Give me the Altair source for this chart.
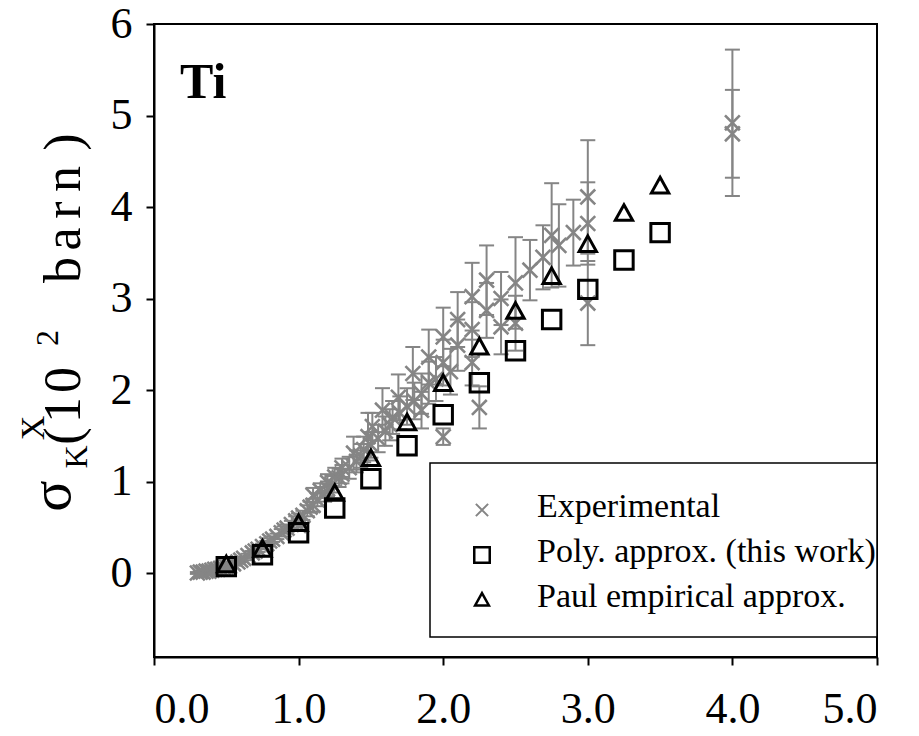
import altair as alt
import pandas as pd

# ---------------- data ----------------
exp_x = [0.30, 0.32, 0.34, 0.36, 0.38, 0.40, 0.42, 0.44, 0.46, 0.48,
         0.50, 0.52, 0.55, 0.58, 0.60, 0.62, 0.65, 0.68, 0.70, 0.72,
         0.75, 0.78, 0.80, 0.82, 0.85, 0.88, 0.90, 0.92, 0.95, 0.98,
         1.00, 1.00, 1.03, 1.06, 1.08, 1.10, 1.10, 1.13, 1.15, 1.18,
         1.20, 1.20, 1.23, 1.25, 1.28, 1.30, 1.30, 1.35, 1.38, 1.40,
         1.43, 1.45, 1.48, 1.50, 1.51, 1.55, 1.58, 1.60, 1.63, 1.65,
         1.69, 1.70, 1.75, 1.79, 1.80, 1.85, 1.85, 1.90, 1.90, 1.95,
         2.00, 2.00, 2.00, 2.05, 2.10, 2.10, 2.20, 2.20, 2.20, 2.25,
         2.30, 2.30, 2.40, 2.40, 2.50, 2.50, 2.60, 2.69, 2.75, 2.80,
         2.90, 3.00, 3.00, 3.00, 4.00, 4.00]
exp_y = [0.00, 0.01, 0.01, 0.02, 0.02, 0.03, 0.04, 0.04, 0.05, 0.06,
         0.07, 0.08, 0.10, 0.12, 0.14, 0.16, 0.19, 0.22, 0.24, 0.26,
         0.29, 0.32, 0.35, 0.37, 0.40, 0.44, 0.47, 0.49, 0.53, 0.57,
         0.60, 0.52, 0.63, 0.68, 0.72, 0.85, 0.74, 0.80, 0.90, 0.86,
         0.99, 0.92, 0.97, 1.05, 1.04, 1.15, 1.08, 1.15, 1.31, 1.22,
         1.28, 1.35, 1.49, 1.40, 1.60, 1.47, 1.78, 1.55, 1.62, 1.70,
         1.92, 1.75, 1.82, 2.18, 1.88, 1.96, 1.78, 2.36, 2.08, 2.12,
         2.58, 2.30, 1.49, 2.20, 2.77, 2.49, 3.02, 2.66, 2.30, 1.81,
         3.20, 2.87, 3.00, 2.69, 3.17, 2.73, 3.31, 3.45, 3.69, 3.58,
         3.72, 4.11, 3.82, 2.95, 4.92, 4.80]
exp_err = [0.01, 0.01, 0.01, 0.01, 0.01, 0.01, 0.01, 0.01, 0.01, 0.01,
           0.01, 0.02, 0.02, 0.02, 0.02, 0.02, 0.02, 0.02, 0.02, 0.03,
           0.03, 0.03, 0.03, 0.03, 0.03, 0.04, 0.04, 0.04, 0.04, 0.05,
           0.05, 0.05, 0.05, 0.06, 0.06, 0.08, 0.07, 0.07, 0.08, 0.08,
           0.09, 0.08, 0.09, 0.10, 0.10, 0.10, 0.10, 0.12, 0.18, 0.12,
           0.13, 0.14, 0.26, 0.14, 0.15, 0.15, 0.24, 0.16, 0.17, 0.18,
           0.25, 0.18, 0.20, 0.29, 0.20, 0.22, 0.20, 0.30, 0.23, 0.24,
           0.32, 0.25, 0.09, 0.25, 0.30, 0.28, 0.37, 0.30, 0.25, 0.23,
           0.38, 0.30, 0.29, 0.30, 0.50, 0.30, 0.33, 0.35, 0.57, 0.45,
           0.36, 0.62, 0.45, 0.46, 0.80, 0.48]

calc_x = [0.50, 0.75, 1.00, 1.25, 1.50, 1.75, 2.00, 2.25, 2.50, 2.75, 3.00, 3.25, 3.50]
poly_y = [0.07, 0.20, 0.44, 0.71, 1.03, 1.39, 1.73, 2.08, 2.43, 2.77, 3.10, 3.42, 3.72]
paul_y = [0.09, 0.26, 0.54, 0.87, 1.25, 1.64, 2.07, 2.47, 2.86, 3.24, 3.59, 3.93, 4.23]

x_ticks = [0, 1, 2, 3, 4, 5]
y_ticks = [0, 1, 2, 3, 4, 5, 6]
legend_labels = ["Experimental", "Poly. approx. (this work)", "Paul empirical approx."]
panel_label = "Ti"

# ---------------- layout constants ----------------
W, H = 723, 633
PAD_L, PAD_T = 154, 24
FONT = "Liberation Serif"
GRAY = "#858585"
X_PATH = "M-1,-1L1,1M-1,1L1,-1"
TRI_PATH = "M0,-1L1,0.8L-1,0.8Z"

df_exp = pd.DataFrame({"E": exp_x, "sigma": exp_y, "err": exp_err})
df_exp["lo"] = df_exp["sigma"] - df_exp["err"]
df_exp["hi"] = df_exp["sigma"] + df_exp["err"]
df_poly = pd.DataFrame({"E": calc_x, "sigma": poly_y})
df_paul = pd.DataFrame({"E": calc_x, "sigma": paul_y})

xs = alt.Scale(domain=[0, 5], nice=False, zero=False)
ys = alt.Scale(domain=[-0.918, 6], nice=False, zero=False)

xax = alt.Axis(values=x_ticks, format=".1f", title=None, grid=False,
               labelPadding=22, tickSize=8)
yax = alt.Axis(values=y_ticks, format="d", title=None, grid=False,
               labelPadding=14, tickSize=8)

X = alt.X("E:Q", scale=xs, axis=xax)
Y = alt.Y("sigma:Q", scale=ys, axis=yax)

base = alt.Chart(df_exp)
err_rule = base.mark_rule(color=GRAY, strokeWidth=2).encode(
    x=alt.X("E:Q", scale=xs, axis=xax),
    y=alt.Y("lo:Q", scale=ys, axis=yax), y2="hi:Q")
cap_lo = base.mark_tick(orient="horizontal", size=15, thickness=2, color=GRAY, opacity=1).encode(
    x=alt.X("E:Q", scale=xs), y=alt.Y("lo:Q", scale=ys))
cap_hi = base.mark_tick(orient="horizontal", size=15, thickness=2, color=GRAY, opacity=1).encode(
    x=alt.X("E:Q", scale=xs), y=alt.Y("hi:Q", scale=ys))
exp_pts = base.mark_point(shape=X_PATH, size=220, strokeWidth=2.6, color=GRAY,
                          filled=False, opacity=1).encode(x=X, y=Y)

poly_pts = alt.Chart(df_poly).mark_point(shape="square", size=340, strokeWidth=3,
                                         color="black", filled=False, opacity=1).encode(x=X, y=Y)
paul_pts = alt.Chart(df_paul).mark_point(shape=TRI_PATH, size=300, strokeWidth=3,
                                         color="black", filled=False, opacity=1).encode(x=X, y=Y)

one = alt.Data(values=[{}])

# legend box
leg_box = alt.Chart(one).mark_rect(fill="white", stroke="black", strokeWidth=1.5).encode(
    x=alt.value(430 - PAD_L), x2=alt.value(877 - PAD_L),
    y=alt.value(463 - PAD_T), y2=alt.value(637 - PAD_T))

sym_x = 482 - PAD_L
rows_sym = [510 - PAD_T, 555 - PAD_T, 600 - PAD_T]
rows_txt = [517 - PAD_T, 562 - PAD_T, 607 - PAD_T]

leg_layers = [
    alt.Chart(one).mark_point(shape=X_PATH, size=150, strokeWidth=2, color=GRAY, filled=False, opacity=1)
    .encode(x=alt.value(sym_x), y=alt.value(rows_sym[0])),
    alt.Chart(one).mark_point(shape="square", size=240, strokeWidth=2.5, color="black", filled=False, opacity=1)
    .encode(x=alt.value(sym_x), y=alt.value(rows_sym[1])),
    alt.Chart(one).mark_point(shape=TRI_PATH, size=190, strokeWidth=2.5, color="black", filled=False, opacity=1)
    .encode(x=alt.value(sym_x), y=alt.value(rows_sym[2])),
]
for lab, ty in zip(legend_labels, rows_txt):
    leg_layers.append(
        alt.Chart(one).mark_text(text=lab, align="left", baseline="alphabetic", font=FONT,
                                 fontSize=34, color="black")
        .encode(x=alt.value(537 - PAD_L), y=alt.value(ty)))

ti = alt.Chart(one).mark_text(text=panel_label, align="left", baseline="alphabetic", font=FONT,
                              fontSize=50, fontWeight="bold", color="black").encode(
    x=alt.value(180 - PAD_L), y=alt.value(98 - PAD_T))

# rotated y-axis title, built glyph by glyph (char, baseline-x, center-y, size)
title_glyphs = [
    ("σ", 70, 496, 58),
    ("K", 87, 457, 32),
    ("X", 44, 428, 34),
    ("(", 80, 436, 52),
    ("1", 80, 410, 52),
    ("0", 80, 380, 52),
    ("2", 58, 338, 32),
    ("b", 80, 270, 52),
    ("a", 80, 239, 52),
    ("r", 80, 210, 52),
    ("n", 80, 179, 52),
    (")", 80, 142, 52),
]
title_layers = []
for ch, bx, cy, fs in title_glyphs:
    title_layers.append(
        alt.Chart(one).mark_text(text=ch, angle=270, align="center", baseline="alphabetic",
                                 font=FONT, fontSize=fs, color="black")
        .encode(x=alt.value(bx - PAD_L), y=alt.value(cy - PAD_T)))

chart = alt.layer(
    err_rule, cap_lo, cap_hi, exp_pts, poly_pts, paul_pts,
    leg_box, *leg_layers, ti, *title_layers
).properties(
    width=W, height=H,
    padding={"left": PAD_L, "top": PAD_T, "right": 919 - PAD_L - W, "bottom": 736 - PAD_T - H},
    autosize=alt.AutoSizeParams(type="none"),
).configure_view(
    stroke="black", strokeWidth=2
).configure_axis(
    domainColor="black", domainWidth=2, tickColor="black", tickWidth=2,
    labelFont=FONT, labelFontSize=44, labelColor="black"
)

chart.save("out.html", embed_options={"renderer": "svg", "actions": False})
